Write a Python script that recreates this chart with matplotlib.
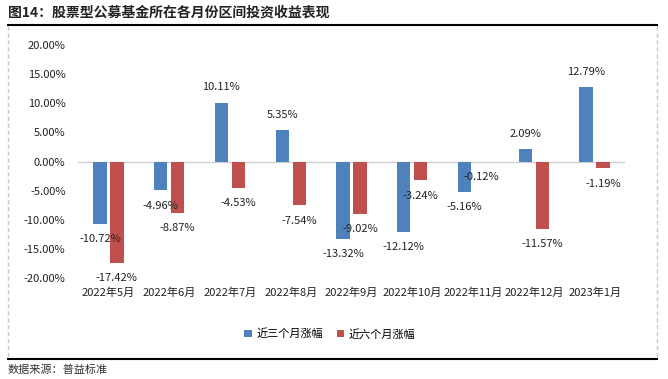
import numpy as np
import matplotlib.pyplot as plt
from matplotlib.lines import Line2D

plt.rcParams['font.family'] = ['Noto Sans CJK SC', 'DejaVu Sans']
plt.rcParams['axes.unicode_minus'] = False

months = ["2022年5月", "2022年6月", "2022年7月", "2022年8月", "2022年9月",
          "2022年10月", "2022年11月", "2022年12月", "2023年1月"]
r3 = [-10.72, -4.96, 10.11, 5.35, -13.32, -12.12, -5.16, 2.09, 12.79]
r6 = [-17.42, -8.87, -4.53, -7.54, -9.02, -3.24, -0.12, -11.57, -1.19]
yticks = [-20, -15, -10, -5, 0, 5, 10, 15, 20]

blue = "#4F81BD"
red = "#C0504D"

fig = plt.figure(figsize=(6.68, 3.79), dpi=100)
ax = fig.add_axes([78 / 668, 1 - 278 / 379, (625 - 78) / 668, (278 - 45) / 379])

x = np.arange(len(months))
w = 0.22
off = 0.14
b1 = ax.bar(x - off, r3, w, color=blue, label="近三个月涨幅")
b2 = ax.bar(x + off, r6, w, color=red, label="近六个月涨幅")

for bars, vals in ((b1, r3), (b2, r6)):
    for b, v in zip(bars, vals):
        cx = b.get_x() + b.get_width() / 2
        dy = 11 if v >= 0 else -11
        ax.annotate(f"{v:.2f}%", (cx, v), xytext=(0, dy), textcoords="offset points",
                    ha="center", va="center", fontsize=8, color="#222222")

ax.axhline(0, color="#d0d0d0", lw=1, zorder=0)
ax.set_xlim(-0.5, len(months) - 0.5)
ax.set_ylim(-20, 20)
ax.set_yticks(yticks)
ax.set_yticklabels([f"{t:.2f}%" for t in yticks])
ax.set_xticks(x)
ax.set_xticklabels(months)
ax.tick_params(axis="both", length=0, labelsize=8, labelcolor="#222222")
ax.tick_params(axis="x", pad=7)
ax.tick_params(axis="y", pad=9)
for s in ax.spines.values():
    s.set_visible(False)

fig.legend(handles=[b1, b2], loc="center", bbox_to_anchor=(330 / 668, 1 - 334 / 379),
           ncol=2, frameon=False, fontsize=8, handlelength=0.7, handleheight=0.7,
           handletextpad=0.4, columnspacing=1.2)

# frame decorations
fig.add_artist(Line2D([8 / 668, 657 / 668], [1 - 25 / 379] * 2, color="black", lw=1.5))
fig.add_artist(Line2D([8 / 668, 657 / 668], [1 - 359 / 379] * 2, color="black", lw=1.5))
for xx in (8, 657):
    fig.add_artist(Line2D([xx / 668] * 2, [1 - 26 / 379, 1 - 358 / 379],
                          color="#c8c8c8", lw=1, ls=(0, (3, 2))))

fig.text(8 / 668, 1 - 13 / 379, "图14：股票型公募基金所在各月份区间投资收益表现",
         fontsize=10, fontweight="bold", color="#222222", va="center", ha="left")
fig.text(8 / 668, 1 - 370 / 379, "数据来源：普益标准", fontsize=8,
         color="#333333", va="center", ha="left")

fig.savefig("out.png", dpi=100)
